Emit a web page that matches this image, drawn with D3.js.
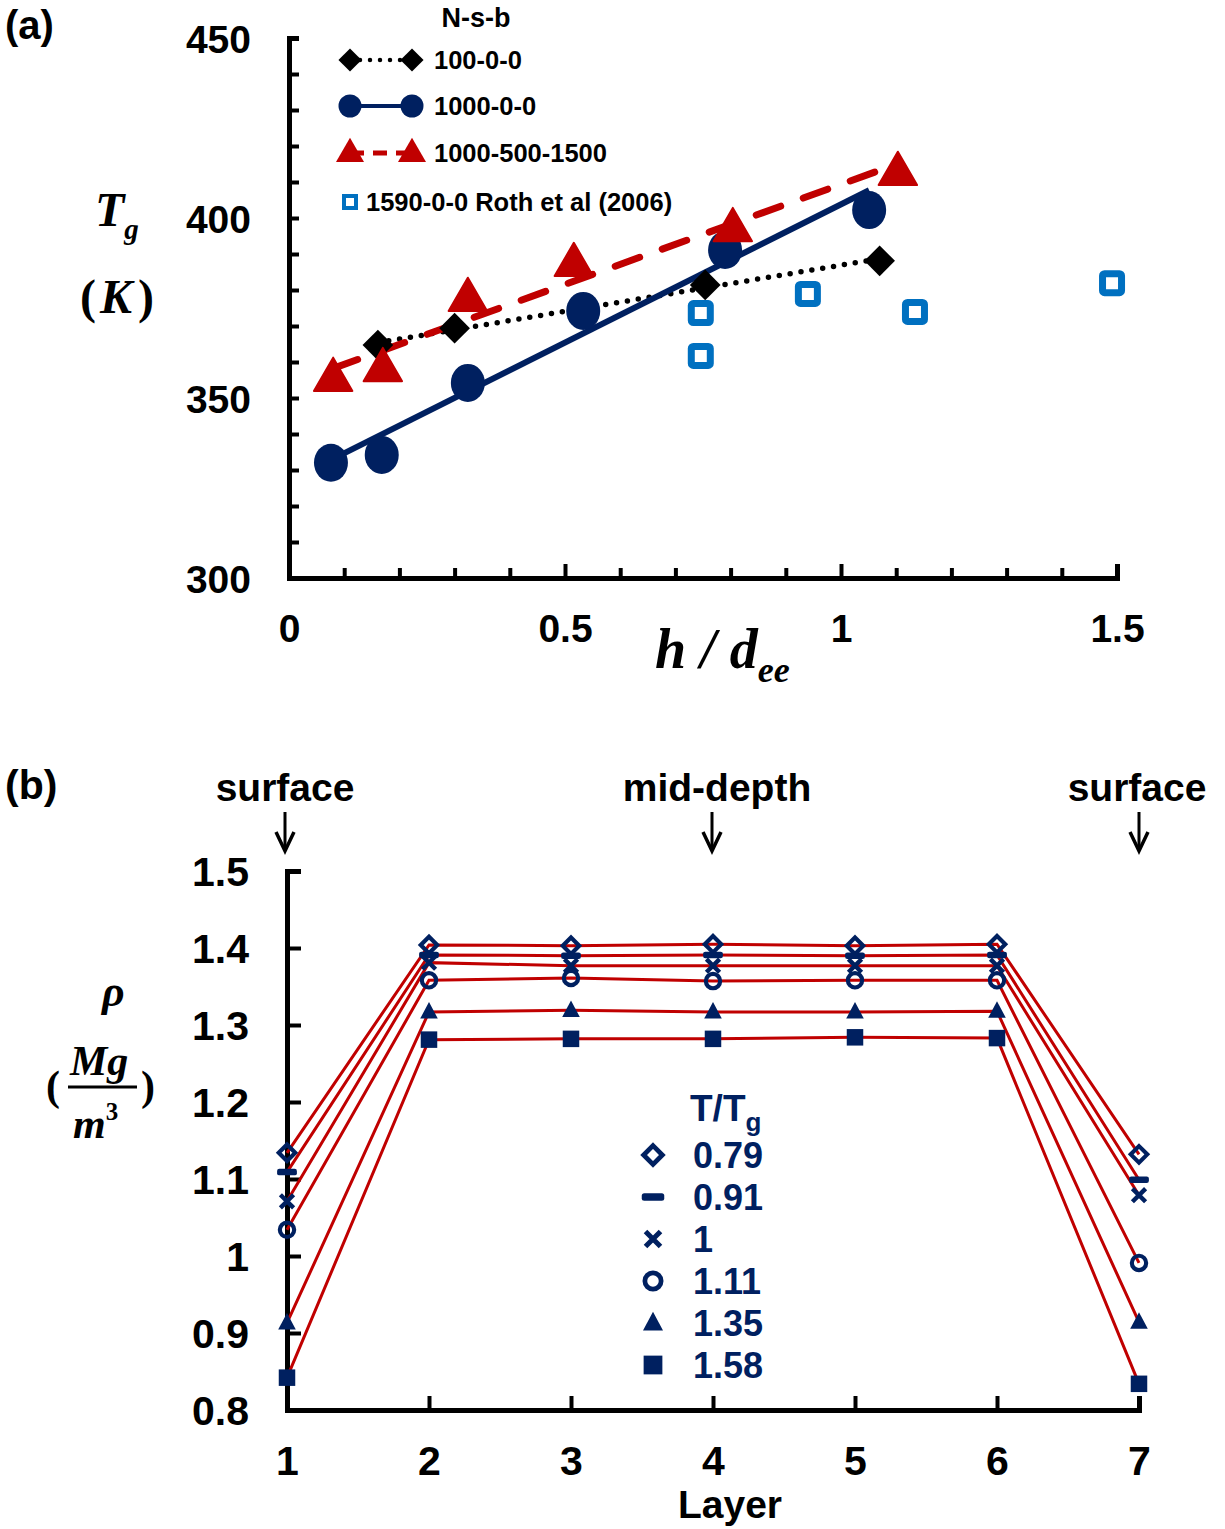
<!DOCTYPE html>
<html>
<head>
<meta charset="utf-8">
<script src="https://cdn.jsdelivr.net/npm/d3@7"></script>
<style>
body{margin:0;background:#fff;}
text{font-family:"Liberation Sans",Arial,sans-serif;font-weight:bold;}
.math{font-family:"Liberation Serif","Times New Roman",serif;font-style:italic;font-weight:bold;}
</style>
</head>
<body>
<div id="chart"></div>
<script>
// ---- panel (a) data: h/dee vs Tg ----
var nsb100x=[0.161,0.30,0.754,1.07];
var nsb100y=[364.7,369.4,381.4,388.1];
var nsb1000x=[0.076,0.168,0.324,0.533,0.79,1.051];
var nsb1000y=[332,334.2,354.2,374.2,391.1,402.2];
var nsb1500x=[0.08,0.17,0.324,0.516,0.804,1.103];
var nsb1500y=[355.6,358.3,377.8,387.5,397.2,412.8];
var rothx=[0.746,0.746,0.94,1.134,1.491];
var rothy=[373.6,361.7,378.9,373.9,381.9];
var legendA=["100-0-0","1000-0-0","1000-500-1500","1590-0-0 Roth et al (2006)"];

// ---- panel (b) data: density per layer ----
var layers=[1,2,3,4,5,6,7];
var ratios=["0.79","0.91","1","1.11","1.35","1.58"];
var rho079=[1.134,1.404,1.403,1.405,1.403,1.405,1.132];
var rho091=[1.109,1.391,1.390,1.391,1.390,1.391,1.099];
var rho100=[1.071,1.381,1.377,1.377,1.377,1.377,1.079];
var rho111=[1.034,1.358,1.361,1.357,1.358,1.358,0.991];
var rho135=[0.913,1.317,1.319,1.317,1.317,1.318,0.914];
var rho158=[0.842,1.281,1.282,1.282,1.284,1.283,0.834];

var W=1225,H=1529;
var navy="#002060",red="#c00000",blue="#0070c0";

var svg=d3.select("#chart").append("svg").attr("width",W).attr("height",H);

// ================= panel (a) =================
var xa=d3.scaleLinear().domain([0,1.5]).range([289,1117]);
var ya=d3.scaleLinear().domain([300,450]).range([578,38]);

var yAxisA=d3.axisLeft(ya).tickValues(d3.range(300,451,10))
  .tickFormat(function(d){return d%50===0?d:"";})
  .tickSizeInner(-10).tickSizeOuter(-10).tickPadding(38);
var gya=svg.append("g").attr("transform","translate(289,0)").call(yAxisA);

var xAxisA=d3.axisBottom(xa).tickValues(d3.range(0,1.501,0.1))
  .tickFormat(function(d){var r=Math.round(d*10);return r%5===0?d3.format("")(r/10):"";})
  .tickSizeInner(-10).tickSizeOuter(-14).tickPadding(36);
var gxa=svg.append("g").attr("transform","translate(0,578)").call(xAxisA);
gxa.selectAll(".tick line").attr("y2",function(d){return Math.round(d*10)%5===0?-14:-10;});

[gya,gxa].forEach(function(g){
  g.select(".domain").attr("stroke","#000").attr("stroke-width",5);
  g.selectAll(".tick line").attr("stroke","#000").attr("stroke-width",4);
  g.selectAll("text").attr("fill","#000").style("font-size","39px").style("font-weight","bold")
   .style("font-family","'Liberation Sans',Arial,sans-serif");
});
gya.selectAll("text").attr("dy","0.36em");

function fitLine(xs,ys){
  var mx=d3.mean(xs),my=d3.mean(ys),sxy=0,sxx=0;
  xs.forEach(function(x,i){sxy+=(x-mx)*(ys[i]-my);sxx+=(x-mx)*(x-mx);});
  var b=sxy/sxx,a=my-b*mx;
  var x0=d3.min(xs),x1=d3.max(xs);
  return [[x0,a+b*x0],[x1,a+b*x1]];
}
var lineA=d3.line().x(function(d){return xa(d[0]);}).y(function(d){return ya(d[1]);});

function zipA(xs,ys){return xs.map(function(x,i){return [x,ys[i]];});}

// trendlines
svg.append("path").datum(fitLine(nsb100x,nsb100y)).attr("d",lineA)
  .attr("fill","none").attr("stroke","#000").attr("stroke-width",5.5)
  .attr("stroke-linecap","round").attr("stroke-dasharray","0,11");
svg.append("path").datum(fitLine(nsb1000x,nsb1000y)).attr("d",lineA)
  .attr("fill","none").attr("stroke",navy).attr("stroke-width",6);
svg.append("path").datum(fitLine(nsb1500x,nsb1500y)).attr("d",lineA)
  .attr("fill","none").attr("stroke",red).attr("stroke-width",7)
  .attr("stroke-linecap","round").attr("stroke-dasharray","26,24");

var diamond=d3.symbol().type(d3.symbolDiamond2).size(600);
var tri=d3.symbol().type(d3.symbolTriangle).size(640);

svg.append("g").selectAll("path").data(zipA(nsb100x,nsb100y)).enter().append("path")
  .attr("d",diamond).attr("fill","#000")
  .attr("transform",function(d){return "translate("+xa(d[0])+","+ya(d[1])+")";});
svg.append("g").selectAll("ellipse").data(zipA(nsb1000x,nsb1000y)).enter().append("ellipse")
  .attr("rx",17).attr("ry",19).attr("fill",navy)
  .attr("cx",function(d){return xa(d[0]);}).attr("cy",function(d){return ya(d[1]);});
svg.append("g").selectAll("path").data(zipA(nsb1500x,nsb1500y)).enter().append("path")
  .attr("d",tri).attr("fill",red).attr("stroke",red).attr("stroke-width",2).attr("stroke-linejoin","round")
  .attr("transform",function(d){return "translate("+xa(d[0])+","+(ya(d[1])+2)+")";});
svg.append("g").selectAll("rect").data(zipA(rothx,rothy)).enter().append("rect")
  .attr("x",function(d){return xa(d[0])-9.5;}).attr("y",function(d){return ya(d[1])-9.5;})
  .attr("width",19).attr("height",19).attr("rx",2)
  .attr("fill","#fff").attr("stroke",blue).attr("stroke-width",7);

// legend (a)
svg.append("text").attr("x",476).attr("y",27).attr("text-anchor","middle")
  .style("font-size","27px").text("N-s-b");
var lg=svg.append("g");
var ly=[60,106,153];
lg.append("line").attr("x1",350).attr("x2",410).attr("y1",ly[0]).attr("y2",ly[0])
  .attr("stroke","#000").attr("stroke-width",4.5).attr("stroke-linecap","round").attr("stroke-dasharray","0,10");
lg.append("line").attr("x1",350).attr("x2",410).attr("y1",ly[1]).attr("y2",ly[1])
  .attr("stroke",navy).attr("stroke-width",4);
lg.append("line").attr("x1",350).attr("x2",410).attr("y1",ly[2]).attr("y2",ly[2])
  .attr("stroke",red).attr("stroke-width",5).attr("stroke-dasharray","14,9");
[350,412].forEach(function(x){
  lg.append("path").attr("d",d3.symbol().type(d3.symbolDiamond2).size(340)).attr("fill","#000")
    .attr("transform","translate("+x+","+ly[0]+")");
  lg.append("circle").attr("cx",x).attr("cy",ly[1]).attr("r",11.5).attr("fill",navy);
  lg.append("path").attr("d",d3.symbol().type(d3.symbolTriangle).size(340)).attr("fill",red)
    .attr("transform","translate("+x+","+(ly[2]+1)+")");
});
lg.append("rect").attr("x",344).attr("y",196).attr("width",12).attr("height",12)
  .attr("fill","#fff").attr("stroke",blue).attr("stroke-width",4);
legendA.forEach(function(t,i){
  lg.append("text").attr("x",i<3?434:366).attr("y",i<3?ly[i]+9:211)
    .style("font-size","25.5px").text(t);
});

// axis titles (a)
svg.append("text").attr("x",5).attr("y",39).style("font-size","40px").text("(a)");
var tg=svg.append("text").attr("class","math").attr("x",95).attr("y",226).style("font-size","48px");
tg.append("tspan").text("T");
tg.append("tspan").attr("dy",13).style("font-size","29px").text("g");
var kk=svg.append("text").attr("class","math").attr("x",80).attr("y",313).style("font-size","48px");
kk.append("tspan").style("font-style","normal").text("(");
kk.append("tspan").attr("dx",4).text("K");
kk.append("tspan").attr("dx",6).style("font-style","normal").text(")");
var hd=svg.append("text").attr("class","math").attr("x",655).attr("y",668).style("font-size","56px");
hd.append("tspan").text("h / d");
hd.append("tspan").attr("dy",14).style("font-size","36px").text("ee");

// ================= panel (b) =================
var xb=d3.scaleLinear().domain([1,7]).range([287,1139]);
var yb=d3.scaleLinear().domain([0.8,1.5]).range([1410,871]);

var yAxisB=d3.axisLeft(yb).tickValues(d3.range(0.8,1.501,0.1))
  .tickFormat(function(d){return d3.format("")(Math.round(d*10)/10);})
  .tickSizeInner(-14).tickSizeOuter(-14).tickPadding(38);
var gyb=svg.append("g").attr("transform","translate(287,0)").call(yAxisB);
var xAxisB=d3.axisBottom(xb).tickValues(layers).tickFormat(d3.format("d"))
  .tickSizeInner(-14).tickSizeOuter(-14).tickPadding(36);
var gxb=svg.append("g").attr("transform","translate(0,1410)").call(xAxisB);
[gyb,gxb].forEach(function(g){
  g.select(".domain").attr("stroke","#000").attr("stroke-width",5);
  g.selectAll(".tick line").attr("stroke","#000").attr("stroke-width",4);
  g.selectAll("text").attr("fill","#000").style("font-size","41px").style("font-weight","bold")
   .style("font-family","'Liberation Sans',Arial,sans-serif");
});
gyb.selectAll("text").attr("dy","0.36em");

var seriesB=[rho079,rho091,rho100,rho111,rho135,rho158];
var shapes=["diamond","dash","x","circle","triangle","square"];
var lineB=d3.line().x(function(d,i){return xb(layers[i]);}).y(function(d){return yb(d);});

seriesB.forEach(function(s){
  svg.append("path").datum(s).attr("d",lineB).attr("fill","none").attr("stroke",red).attr("stroke-width",3);
});

function drawMarker(g,shape,cx,cy,sc){
  sc=sc||1;
  var m=g.append("g").attr("transform","translate("+cx+","+cy+") scale("+sc+")");
  if(shape==="diamond"){
    m.append("path").attr("d","M0,-7.5L7.5,0L0,7.5L-7.5,0Z").attr("fill","none").attr("stroke",navy).attr("stroke-width",3.8);
  }else if(shape==="dash"){
    m.append("rect").attr("x",-9).attr("y",-3).attr("width",18).attr("height",6).attr("rx",2).attr("fill",navy);
  }else if(shape==="x"){
    m.append("path").attr("d","M-6,-6L6,6M6,-6L-6,6").attr("stroke",navy).attr("stroke-width",4);
  }else if(shape==="circle"){
    m.append("circle").attr("r",6.5).attr("fill","none").attr("stroke",navy).attr("stroke-width",3.8);
  }else if(shape==="triangle"){
    m.append("path").attr("d","M0,-9L8,6L-8,6Z").attr("fill",navy);
  }else if(shape==="square"){
    m.append("rect").attr("x",-7.5).attr("y",-7.5).attr("width",15).attr("height",15).attr("fill",navy);
  }
}
var mk=svg.append("g");
seriesB.forEach(function(s,k){
  s.forEach(function(v,i){drawMarker(mk,shapes[k],xb(layers[i]),yb(v),1.1);});
});

// legend (b)
var tt=svg.append("text").attr("x",690).attr("y",1121).attr("fill",navy).style("font-size","37px");
tt.append("tspan").text("T/T");
tt.append("tspan").attr("dy",10).style("font-size","26px").text("g");
ratios.forEach(function(r,i){
  var y=1155+i*42;
  drawMarker(svg,shapes[i],653,y,1.25);
  svg.append("text").attr("x",693).attr("y",y+13).attr("fill",navy).style("font-size","36px").text(r);
});

// annotations (b)
var notes=[{t:"surface",x:285,ax:285},{t:"mid-depth",x:717,ax:712},{t:"surface",x:1137,ax:1139}];
notes.forEach(function(n){
  svg.append("text").attr("x",n.x).attr("y",801).attr("text-anchor","middle").style("font-size","39px").text(n.t);
  svg.append("line").attr("x1",n.ax).attr("x2",n.ax).attr("y1",812).attr("y2",850).attr("stroke","#000").attr("stroke-width",3);
  svg.append("path").attr("d","M"+(n.ax-9)+",832L"+n.ax+",851L"+(n.ax+9)+",832").attr("fill","none")
    .attr("stroke","#000").attr("stroke-width",3.5);
});

svg.append("text").attr("x",5).attr("y",799).style("font-size","41px").text("(b)");
svg.append("text").attr("x",730).attr("y",1518).attr("text-anchor","middle").style("font-size","39px").text("Layer");

svg.append("text").attr("class","math").attr("x",102).attr("y",1006).style("font-size","44px").text("ρ");
svg.append("text").attr("class","math").style("font-style","normal").attr("x",46).attr("y",1100).style("font-size","42px").text("(");
svg.append("text").attr("class","math").style("font-style","normal").attr("x",141).attr("y",1100).style("font-size","42px").text(")");
svg.append("text").attr("class","math").attr("x",70).attr("y",1075).style("font-size","42px").text("Mg");
svg.append("line").attr("x1",68).attr("x2",137).attr("y1",1087).attr("y2",1087).attr("stroke","#000").attr("stroke-width",3);
var m3=svg.append("text").attr("class","math").attr("x",73).attr("y",1138).style("font-size","42px");
m3.append("tspan").text("m");
m3.append("tspan").attr("dy",-18).style("font-size","25px").style("font-style","normal").text("3");
</script>
</body>
</html>
